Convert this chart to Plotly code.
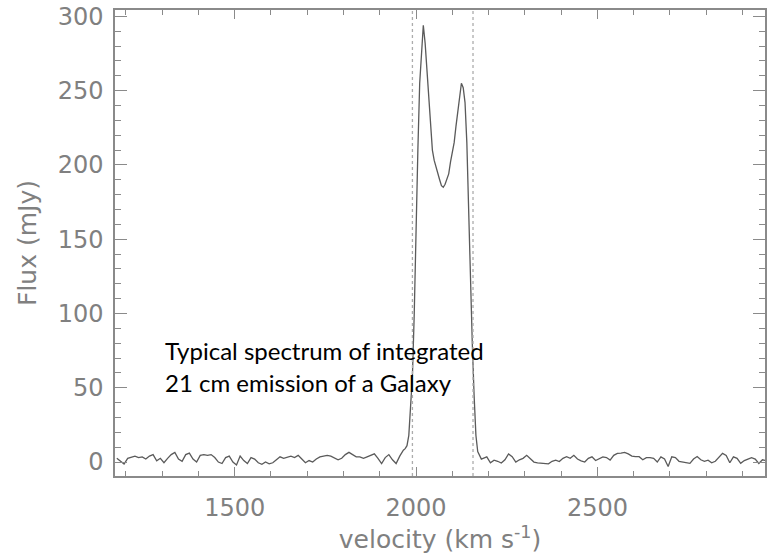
import numpy as np
import plotly.graph_objects as go

# Baseline channels blueward of the line (10 km/s spacing, starting at 1175 km/s)
v_blue_start = 1175
flux_blue = [
    2.5, 0.5, -1.4, 2.5, 3.5, 4.0, 3.0, 3.5, 2.0, 4.0,
    5.0, 0.8, 2.5, -0.5, 2.5, 5.0, 6.5, 2.0, 0.5, 5.0,
    6.0, 2.0, 0.0, 4.5, 5.0, 4.5, 5.0, 3.0, 0.0, -1.0,
    3.0, 4.0, 0.0, -2.0, 4.0, 1.0, -1.0, 3.0, 2.0, -0.5,
    -1.5, 0.0, -1.2, -0.5, 1.5, 3.5, 2.5, 3.5, 4.0, 3.0,
    4.5, 2.0, -0.5, 1.0, 0.0, 2.0, 3.5, 4.0, 4.5, 4.0,
    3.0, 1.5, 2.5, 5.0, 6.5, 5.0, 3.5, 3.5, 2.5, 3.5,
    4.5, 5.5, 2.5, -1.0, 3.0, 5.0, 1.5, -1.0, 4.0, 8.0,
]

# 21 cm line profile, sampled at 5 km/s
v_line = [
    1970, 1975, 1980, 1985, 1990, 1995, 2000, 2005, 2010, 2015,
    2020, 2025, 2030, 2035, 2040, 2045, 2050, 2055, 2060, 2065,
    2070, 2075, 2080, 2085, 2090, 2095, 2100, 2105, 2110, 2115,
    2120, 2125, 2130, 2135, 2140, 2145, 2150, 2155, 2160, 2165,
    2170, 2175, 2180,
]
flux_line = [
    9, 11, 18, 35, 58, 100, 160, 210, 255, 275,
    294, 282, 262, 245, 225, 210, 203, 198, 194, 190,
    186, 185, 187, 190, 194, 202, 208, 215, 226, 237,
    247, 255, 252, 242, 215, 165, 120, 80, 45, 18,
    7, 4, 2,
]

# Baseline channels redward of the line (10 km/s spacing, starting at 2185 km/s)
v_red_start = 2185
flux_red = [
    2.5, 3.5, -0.5, 1.3, 0.5, -0.7, 1.5, 5.5, 3.6, 0.0,
    1.5, 2.5, 4.5, 2.0, 0.0, -0.5, -0.8, -0.9, -1.2, 0.5,
    1.3, 0.3, 2.5, 3.6, 2.5, 4.5, 2.0, 0.8, 0.0, 2.5,
    3.5, 1.0, 2.0, 3.5, 3.0, 1.3, 4.5, 5.8, 6.0, 6.5,
    5.5, 4.0, 3.6, 3.6, 1.5, 3.0, 3.0, 2.5, 0.0, 3.5,
    2.0, -3.0, 3.5, 3.0, 0.5, 0.0, -0.5, -0.9, 2.0, 3.7,
    1.5, 0.5, 1.3, -0.5, 0.5, 3.5, 5.8, 4.5, -0.5, 3.5,
    2.5, -0.9, 1.0, 2.0, 3.0, 2.0, -1.0, 1.5, 1.0,
]

# Velocity limits used for the integration window
window_edges = [1990, 2157]

x_ticks = [1500, 2000, 2500]
y_ticks = [0, 50, 100, 150, 200, 250, 300]

v_blue = v_blue_start + 10 * np.arange(len(flux_blue))
v_red = v_red_start + 10 * np.arange(len(flux_red))
velocity = np.concatenate([v_blue, np.array(v_line), v_red])
flux = np.concatenate([flux_blue, flux_line, flux_red])

axis_grey = "#8a8a8a"
label_grey = "#808080"
tick_font = dict(family="DejaVu Sans", size=24, color=label_grey)
title_font = dict(family="DejaVu Sans", size=25, color=label_grey)

fig = go.Figure()
fig.add_trace(go.Scatter(
    x=velocity, y=flux, mode="lines",
    line=dict(color="#5a5a5a", width=1.3),
    hoverinfo="skip", showlegend=False,
))

for v in window_edges:
    fig.add_shape(type="line", xref="x", yref="paper", x0=v, x1=v, y0=0, y1=1,
                  line=dict(color="#acacac", width=1.3, dash="dot"))

note_font = dict(family="Lato", size=24, color="black")
fig.add_annotation(text="Typical spectrum of integrated", xref="x", yref="y",
                   x=1301, y=75, xanchor="left", yanchor="middle", showarrow=False,
                   font=note_font)
fig.add_annotation(text="21 cm emission of a Galaxy", xref="x", yref="y",
                   x=1301, y=53.5, xanchor="left", yanchor="middle", showarrow=False,
                   font=note_font)

fig.update_xaxes(
    range=[1170, 2962], tickvals=x_ticks, ticktext=[str(t) for t in x_ticks],
    ticks="inside", ticklen=9, tickwidth=1.3, tickcolor=axis_grey,
    minor=dict(dtick=100, tick0=1000, ticks="inside", ticklen=5, tickcolor=axis_grey),
    showline=True, linecolor=axis_grey, linewidth=1.5, mirror="allticks",
    showgrid=False, zeroline=False, tickfont=tick_font, ticklabelstandoff=9,
    title=dict(text="velocity (km s<sup>-1</sup>)", font=title_font, standoff=8),
)
fig.update_yaxes(
    range=[-9.4, 304.3], tickvals=y_ticks, ticktext=[str(t) for t in y_ticks],
    ticks="inside", ticklen=12, tickwidth=1.3, tickcolor=axis_grey,
    minor=dict(dtick=10, tick0=0, ticks="inside", ticklen=6, tickcolor=axis_grey),
    showline=True, linecolor=axis_grey, linewidth=1.5, mirror="allticks",
    showgrid=False, zeroline=False, tickfont=tick_font, ticklabelstandoff=5,
    title=dict(text="Flux (mJy)", font=title_font, standoff=14),
)

fig.update_layout(
    width=769, height=560,
    margin=dict(l=115, r=2, t=10, b=84),
    paper_bgcolor="white", plot_bgcolor="white",
)

fig.write_html("out.html")
